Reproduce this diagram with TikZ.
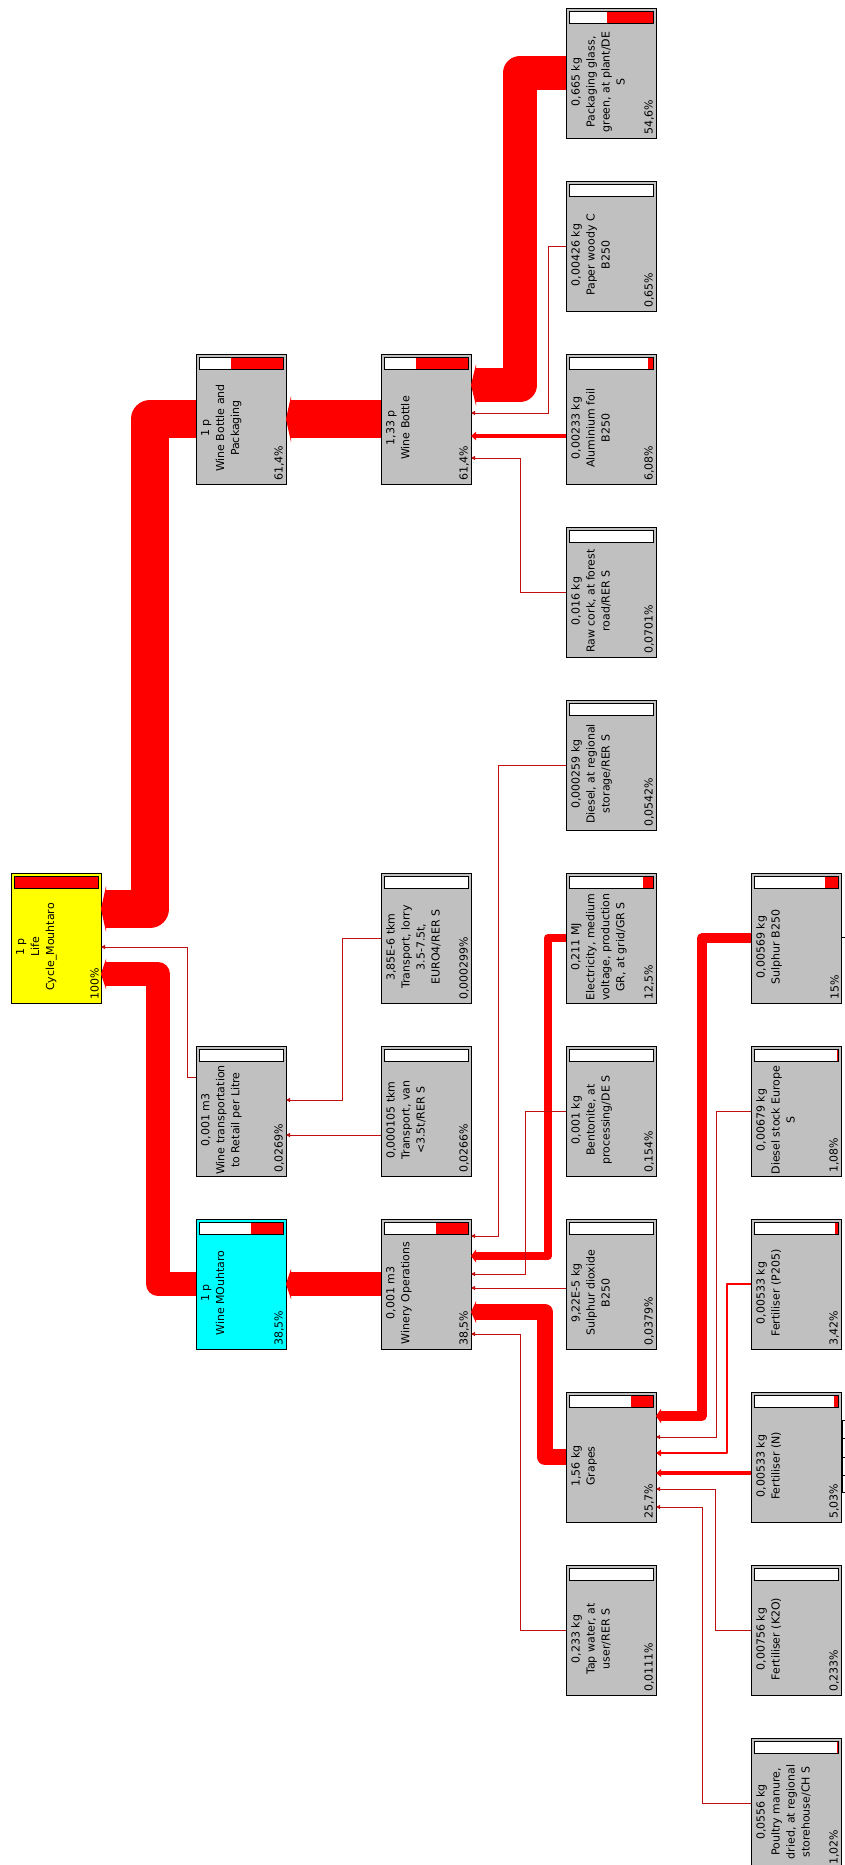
\documentclass[tikz,border=0pt]{standalone}
\usepackage{fontspec}
\setmainfont{DejaVu Sans}
\usetikzlibrary{arrows.meta,calc}
\definecolor{boxgray}{HTML}{C0C0C0}
\definecolor{lcyellow}{HTML}{FFFF00}
\definecolor{wmcyan}{HTML}{00FFFF}
\definecolor{flowred}{HTML}{FF0000}
\definecolor{thinred}{HTML}{C01010}
\tikzset{
 procbox/.style={draw=black, line width=0.9pt, minimum width=90pt, minimum height=130pt, inner sep=0pt, outer sep=0pt, anchor=north west},
 boxtext/.style={rotate=90, anchor=north, align=center, inner sep=0pt, font=\fontsize{11}{15}\selectfont},
 pcttext/.style={rotate=90, anchor=south west, inner sep=0pt, font=\fontsize{11}{15}\selectfont},
 flow/.style={draw=flowred, line width=#1pt, line join=round, -{Triangle[length=5pt,width=4pt 1.1]}},
 thinflow/.style={draw=thinred, line width=1pt, -{Triangle[length=4pt,width=4pt]}},
 stub/.style={draw=black, line width=0.9pt},
}
\newcommand{\pbox}[7]{%
 \node[procbox, fill=#4] (#1) at (#2,#3) {};
 \fill[white] (#2+3,#3+3) rectangle (#2+87,#3+15);
 \fill[flowred] (#2+87-#5,#3+3) rectangle (#2+87,#3+15);
 \draw[line width=0.9pt] (#2+3,#3+3) rectangle (#2+87,#3+15);
 \node[boxtext] (#1-t) at (#2+5,#3+74) {#6};
 \node[pcttext] (#1-p) at (#2+88,#3+127) {#7};
}
\begin{document}
\begin{tikzpicture}[x=1pt,y=-1pt]
\clip (0,0) rectangle (845,1865);
\fill[white] (0,0) rectangle (845,1865);
% column 0
\pbox{LC}{11}{873}{lcyellow}{84}{1 p\\Life\\Cycle\_Mouhtaro}{100\%}
% column 1
\pbox{WBP}{196}{354}{boxgray}{51.6}{1 p\\Wine Bottle and\\Packaging}{61,4\%}
\pbox{WT}{196}{1046}{boxgray}{0}{0,001 m3\\Wine transportation\\to Retail per Litre}{0,0269\%}
\pbox{WM}{196}{1219}{wmcyan}{32.3}{1 p\\Wine MOuhtaro}{38,5\%}
% column 2
\pbox{WB}{381}{354}{boxgray}{51.6}{1,33 p\\Wine Bottle}{61,4\%}
\pbox{TL}{381}{873}{boxgray}{0}{3,85E-6 tkm\\Transport, lorry\\3.5-7.5t,\\EURO4/RER S}{0,000299\%}
\pbox{TV}{381}{1046}{boxgray}{0}{0,000105 tkm\\Transport, van\\<3.5t/RER S}{0,0266\%}
\pbox{WO}{381}{1219}{boxgray}{32.3}{0,001 m3\\Winery Operations}{38,5\%}
% column 3
\pbox{PG}{566}{8}{boxgray}{45.9}{0,665 kg\\Packaging glass,\\green, at plant/DE\\S}{54,6\%}
\pbox{PW}{566}{181}{boxgray}{0.5}{0,00426 kg\\Paper woody C\\B250}{0,65\%}
\pbox{AF}{566}{354}{boxgray}{5.1}{0,00233 kg\\Aluminium foil\\B250}{6,08\%}
\pbox{RC}{566}{527}{boxgray}{0}{0,016 kg\\Raw cork, at forest\\road/RER S}{0,0701\%}
\pbox{DR}{566}{700}{boxgray}{0}{0,000259 kg\\Diesel, at regional\\storage/RER S}{0,0542\%}
\pbox{EL}{566}{873}{boxgray}{10.5}{0,211 MJ\\Electricity, medium\\voltage, production\\GR, at grid/GR S}{12,5\%}
\pbox{BE}{566}{1046}{boxgray}{0}{0,001 kg\\Bentonite, at\\processing/DE S}{0,154\%}
\pbox{SD}{566}{1219}{boxgray}{0}{9,22E-5 kg\\Sulphur dioxide\\B250}{0,0379\%}
\pbox{GR}{566}{1392}{boxgray}{21.6}{1,56 kg\\Grapes}{25,7\%}
\pbox{TW}{566}{1565}{boxgray}{0}{0,233 kg\\Tap water, at\\user/RER S}{0,0111\%}
% column 4
\pbox{SU}{751}{873}{boxgray}{12.6}{0,00569 kg\\Sulphur B250}{15\%}
\pbox{DS}{751}{1046}{boxgray}{1}{0,00679 kg\\Diesel stock Europe\\S}{1,08\%}
\pbox{P2}{751}{1219}{boxgray}{2.9}{0,00533 kg\\Fertiliser (P205)}{3,42\%}
\pbox{FN}{751}{1392}{boxgray}{4.2}{0,00533 kg\\Fertiliser (N)}{5,03\%}
\pbox{K2}{751}{1565}{boxgray}{0}{0,00756 kg\\Fertiliser (K2O)}{0,233\%}
\pbox{PM}{751}{1738}{boxgray}{0.9}{0,0556 kg\\Poultry manure,\\dried, at regional\\storehouse/CH S}{1,02\%}
% into LC
\draw[flow=38] (WBP.west) -| (150,909) -- ($(LC.north east)+(0,36)$);
\draw[thinflow] ($(WT.north west)+(0,31)$) -| (187,947) -- ($(LC.north east)+(0,74)$);
\draw[flow=24] (WM.west) -| (158,974) -- ($(LC.north east)+(0,101)$);
% column 2 -> column 1
\draw[flow=38] (WB.west) -- (WBP.east);
\draw[thinflow] (TL.west) -| (342,1100) -- ($(WT.north east)+(0,54)$);
\draw[thinflow] ($(TV.north west)+(0,89)$) -- ($(WT.north east)+(0,89)$);
\draw[flow=24] (WO.west) -- (WM.east);
% into WB
\draw[flow=34] (PG.west) -| (520,385) -- ($(WB.north east)+(0,31)$);
\draw[thinflow] (PW.west) -| (548,413) -- ($(WB.north east)+(0,59)$);
\draw[flow=3.8] ($(AF.north west)+(0,82)$) -- ($(WB.north east)+(0,82)$);
\draw[thinflow] (RC.west) -| (520,458) -- ($(WB.north east)+(0,104)$);
% into WO
\draw[thinflow] (DR.west) -| (498,1236) -- ($(WO.north east)+(0,17)$);
\draw[flow=7.8] (EL.west) -| (548,1256) -- ($(WO.north east)+(0,37)$);
\draw[thinflow] (BE.west) -| (525,1274) -- ($(WO.north east)+(0,55)$);
\draw[thinflow] ($(SD.north west)+(0,69)$) -- ($(WO.north east)+(0,69)$);
\draw[flow=16] (GR.west) -| (545,1312) -- ($(WO.north east)+(0,93)$);
\draw[thinflow] (TW.west) -| (520,1334) -- ($(WO.north east)+(0,115)$);
% into GR
\draw[flow=9.3] (SU.west) -| (702,1416) -- ($(GR.north east)+(0,24)$);
\draw[thinflow] (DS.west) -| (716,1437) -- ($(GR.north east)+(0,45)$);
\draw[flow=2.1] (P2.west) -| (727,1453) -- ($(GR.north east)+(0,61)$);
\draw[flow=3.1] ($(FN.north west)+(0,81)$) -- ($(GR.north east)+(0,81)$);
\draw[thinflow] (K2.west) -| (715,1489) -- ($(GR.north east)+(0,97)$);
\draw[thinflow] (PM.west) -| (702,1507) -- ($(GR.north east)+(0,115)$);
% stubs at the right edge
\coordinate (s1) at (845,937);
\draw[stub] (SU.east |- s1) -- (s1);
\coordinate (s2) at (842,1420);
\coordinate (s3) at (842,1492);
\draw[stub] (s2) -- (s3);
\foreach \yy in {1420,1438,1457,1475,1492}{
  \coordinate (sx) at (845,\yy);
  \draw[stub] (FN.east |- sx) -- (sx);
}
\end{tikzpicture}
\end{document}
